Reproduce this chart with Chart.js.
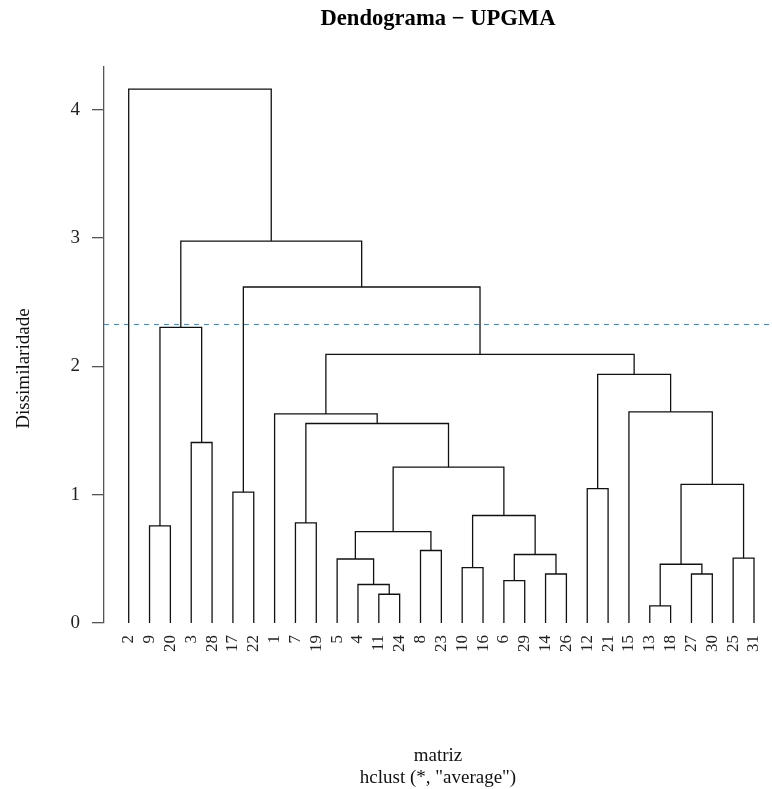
<!DOCTYPE html>
<html>
<head>
<meta charset="utf-8">
<title>Dendograma - UPGMA</title>
<script src="https://cdn.jsdelivr.net/npm/chart.js@4.4.0/dist/chart.umd.min.js"></script>
<style>
  html, body { margin: 0; padding: 0; background: #fff; }
  #wrap { width: 772px; height: 789px; }
</style>
</head>
<body>
<div id="wrap"><canvas id="dendro"></canvas></div>
<script>
// ordem das folhas no eixo x (como sai do hclust)
const leafOrder = [2, 9, 20, 3, 28, 17, 22, 1, 7, 19, 5, 4, 11, 24, 8, 23, 10, 16, 6, 29, 14, 26, 12, 21, 15, 13, 18, 27, 30, 25, 31];

// matriz de fusoes estilo R: negativo = folha, positivo = fusao anterior
const mergeLeft = [-13, -11, -4, -6, -14, -27, -10, 1, -5, -25, 4, -8, 9, -9, -7, 7, -17, -12, 8, 13, -3, 15, -1, -15, 18, 23, 14, 17, 27, -2];
const mergeRight = [-18, -24, 2, -29, -26, -30, -16, 6, 3, -31, 5, -23, 12, -20, -19, 11, -22, -21, 10, 16, -28, 20, 22, 19, 24, 25, 21, 26, 28, 29];
const mergeHeight = [0.133, 0.224, 0.300, 0.331, 0.382, 0.382, 0.432, 0.458, 0.499, 0.505, 0.534, 0.565, 0.713, 0.757, 0.780, 0.838, 1.020, 1.048, 1.080, 1.215, 1.407, 1.555, 1.630, 1.646, 1.938, 2.094, 2.304, 2.619, 2.977, 4.161];

// linha de corte
const cutHeight = 2.327;
const yTicks = [0, 1, 2, 3, 4];

const xMin = -0.185;
const xMax = 31.864;

Chart.defaults.font.family = '"Liberation Serif", "Times New Roman", serif';
Chart.defaults.color = "#111";

const leafX = (leaf) => leafOrder.indexOf(leaf) + 1;
const nodeX = [];
function child(id) {
  if (id < 0) return { x: leafX(-id), y: 0 };
  return { x: nodeX[id - 1], y: mergeHeight[id - 1] };
}

// cada fusao vira um "U" invertido
const datasets = mergeHeight.map((h, i) => {
  const a = child(mergeLeft[i]);
  const b = child(mergeRight[i]);
  nodeX[i] = (a.x + b.x) / 2;
  const l = a.x < b.x ? a : b;
  const r = a.x < b.x ? b : a;
  return {
    data: [
      { x: l.x, y: l.y },
      { x: l.x, y: h },
      { x: r.x, y: h },
      { x: r.x, y: r.y },
    ],
    borderColor: "#111",
    borderWidth: 1.3,
    pointRadius: 0,
    fill: false,
    tension: 0,
  };
});

datasets.push({
  data: [
    { x: xMin, y: cutHeight },
    { x: xMax, y: cutHeight },
  ],
  borderColor: "#1E90FF",
  borderWidth: 1,
  borderDash: [5, 5],
  pointRadius: 0,
  fill: false,
});

new Chart(document.getElementById("dendro"), {
  type: "line",
  data: { datasets },
  options: {
    responsive: true,
    maintainAspectRatio: false,
    animation: false,
    layout: { padding: 0 },
    plugins: {
      legend: { display: false },
      tooltip: { enabled: false },
      title: {
        display: true,
        text: "Dendograma \u2212 UPGMA",
        fullSize: false,
        color: "#000",
        font: { size: 22.6, weight: "bold", lineHeight: 1.2 },
        padding: { top: 6, bottom: 33.5 },
      },
    },
    scales: {
      x: {
        type: "linear",
        min: xMin,
        max: xMax,
        afterBuildTicks: (s) => {
          s.ticks = leafOrder.map((_, i) => ({ value: i + 1 }));
        },
        ticks: {
          autoSkip: false,
          minRotation: 90,
          maxRotation: 90,
          padding: 12,
          color: "#222",
          font: { size: 17 },
          callback: (v, i) => String(leafOrder[i]),
        },
        grid: { display: false, drawTicks: false },
        border: { display: false },
        title: {
          display: true,
          text: ["matriz", 'hclust (*, "average")'],
          color: "#111",
          font: { size: 19, lineHeight: "22px" },
          padding: 0,
        },
        afterFit: (s) => {
          s.height = 166;
          s.paddingLeft = 0;
          s.paddingRight = 0;
        },
      },
      y: {
        min: 0,
        max: 4.337,
        afterBuildTicks: (s) => {
          s.ticks = yTicks.map((v) => ({ value: v }));
        },
        ticks: { padding: 12, color: "#222", font: { size: 19 } },
        grid: {
          drawOnChartArea: false,
          drawTicks: true,
          tickLength: 12,
          color: "#555",
          lineWidth: 1.3,
        },
        border: { display: true, color: "#555", width: 1.3 },
        title: {
          display: true,
          text: "Dissimilaridade\u00A0\u00A0\u00A0\u00A0\u00A0\u00A0\u00A0\u00A0\u00A0\u00A0",
          color: "#111",
          font: { size: 19, lineHeight: 1.2 },
          padding: { top: 13, bottom: 0 },
        },
        afterFit: (s) => {
          s.width = 104;
        },
      },
    },
  },
});
</script>
</body>
</html>
